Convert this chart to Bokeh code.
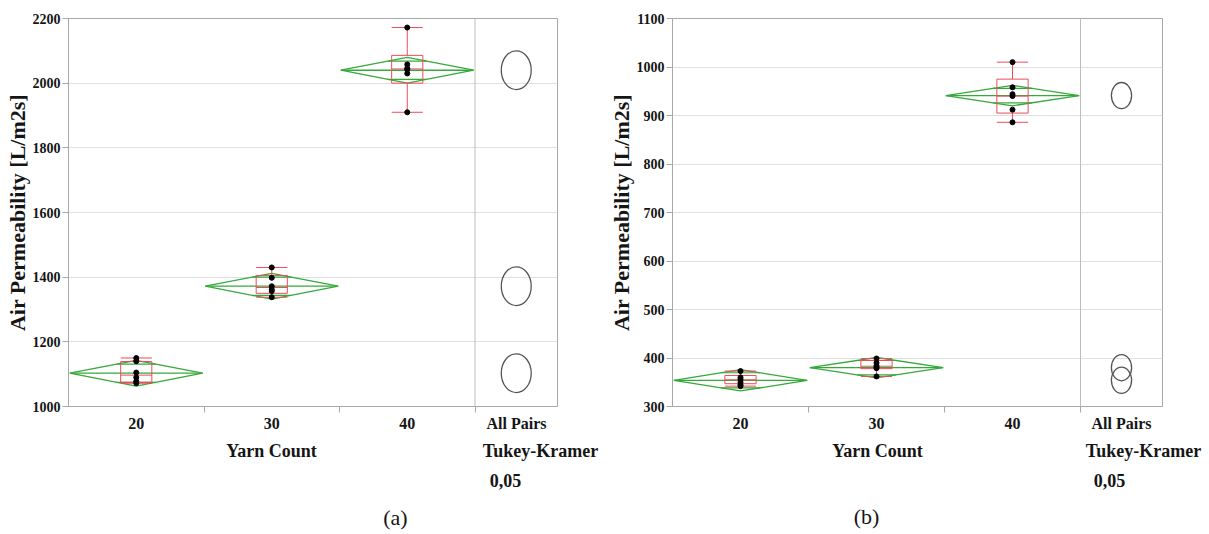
import math
from bokeh.plotting import figure
from bokeh.layouts import row
from bokeh.models import FixedTicker, LinearAxis, Span
from bokeh.embed import file_html
from bokeh.resources import INLINE

# ---------------- data ----------------
categories = ["20", "30", "40"]
cat_pos = [1, 2, 3]

# Panel (a)
a_y20 = [1150, 1140, 1105, 1090, 1078, 1072]
a_y30 = [1430, 1398, 1372, 1362, 1357, 1338]
a_y40 = [2172, 2058, 2046, 2042, 2030, 1910]
a_mean = [1103, 1372, 2040]
a_ci = [40, 40, 40]
a_q1 = [1075, 1350, 2000]
a_median = [1097, 1368, 2044]
a_q3 = [1139, 1405, 2086]
a_low = [1072, 1338, 1910]
a_high = [1150, 1430, 2172]
a_circle_r = [60, 60, 60]
a_yticks = [1000, 1200, 1400, 1600, 1800, 2000, 2200]

# Panel (b)
b_y20 = [373, 360, 356, 350, 345, 342]
b_y30 = [399, 390, 384, 381, 379, 362]
b_y40 = [1010, 958, 944, 940, 912, 886]
b_mean = [354, 380, 941]
b_ci = [22, 21, 21]
b_q1 = [347, 378, 905]
b_median = [355, 383, 940]
b_q3 = [364, 395, 975]
b_low = [342, 362, 886]
b_high = [373, 399, 1010]
b_circle_r = [27, 27, 27]
b_yticks = [300, 400, 500, 600, 700, 800, 900, 1000, 1100]

y_title = "Air Permeability [L/m2s]"
x_title = "Yarn Count"
test_lines = ["All Pairs", "Tukey-Kramer", "0,05"]

# ---------------- style ----------------
GREEN = "#36a93b"
RED = "#ee4b5b"
GRID = "#e0e0e0"
AXIS = "#a8a8a8"
TXT = "#151515"
FONT = "Liberation Serif"


def make_panel(groups, mean, ci, q1, med, q3, lo, hi, circ_r, yticks,
               width, left_px, border_left, border_right, border_top, border_bottom,
               height, sx, text_x, letter, letter_standoff):
    frame_w = width - border_left - border_right
    frame_h = height - border_top - border_bottom
    y0, y1 = yticks[0], yticks[-1]
    sy = frame_h / (y1 - y0)
    x_end = 0.5 + frame_w / sx
    frame_left = left_px + border_left

    def px2x(px):
        return round(0.5 + (px - frame_left) / sx, 4)

    p = figure(width=width, height=height, output_backend="svg", toolbar_location=None,
               x_range=(0.5, x_end), y_range=(y0, y1),
               min_border_left=border_left, min_border_right=border_right,
               min_border_top=border_top, min_border_bottom=border_bottom)
    p.outline_line_color = AXIS
    p.background_fill_color = "white"
    p.border_fill_color = "white"
    p.xgrid.visible = False
    p.ygrid.grid_line_color = GRID
    p.ygrid.grid_line_width = 1

    # y axis
    p.yaxis.ticker = FixedTicker(ticks=yticks)
    p.yaxis.axis_line_color = AXIS
    p.yaxis.major_tick_line_color = AXIS
    p.yaxis.major_tick_out = 6
    p.yaxis.major_tick_in = 0
    p.yaxis.minor_tick_line_color = None
    p.yaxis.major_label_standoff = 2
    p.yaxis.major_label_text_font = FONT
    p.yaxis.major_label_text_font_style = "bold"
    p.yaxis.major_label_text_font_size = "14px"
    p.yaxis.major_label_text_color = TXT
    p.yaxis.axis_label = y_title
    p.yaxis.axis_label_text_font = FONT
    p.yaxis.axis_label_text_font_size = "22px"
    p.yaxis.axis_label_text_font_style = "bold"
    p.yaxis.axis_label_text_color = TXT
    p.yaxis.axis_label_standoff = 0

    # x axis: category labels plus "All Pairs" heading of the comparison-circle column
    t_pairs = px2x(text_x["pairs"])
    p.xaxis.ticker = FixedTicker(ticks=cat_pos + [t_pairs], minor_ticks=[1.5, 2.5, 3.5])
    ov = {c: t for c, t in zip(cat_pos, categories)}
    ov[t_pairs] = test_lines[0]
    p.xaxis.major_label_overrides = ov
    p.xaxis.axis_line_color = AXIS
    p.xaxis.major_tick_line_color = None
    p.xaxis.major_tick_out = 0
    p.xaxis.major_tick_in = 0
    p.xaxis.minor_tick_line_color = AXIS
    p.xaxis.minor_tick_out = 6
    p.xaxis.minor_tick_in = 0
    p.xaxis.major_label_standoff = 2
    p.xaxis.major_label_text_font = FONT
    p.xaxis.major_label_text_font_style = "bold"
    p.xaxis.major_label_text_font_size = "16px"
    p.xaxis.major_label_text_color = TXT

    # further text rows below the plot, each one an axis without line or ticks
    def text_row(items, size, standoff, bold=True):
        ticks = [px2x(cx) for _, cx in items]
        ax = LinearAxis(ticker=FixedTicker(ticks=ticks, minor_ticks=[]),
                        major_label_overrides={t: s for t, (s, _) in zip(ticks, items)},
                        axis_line_color=None, major_tick_line_color=None,
                        minor_tick_line_color=None, major_tick_out=0, major_tick_in=0,
                        minor_tick_out=0, minor_tick_in=0,
                        major_label_standoff=standoff,
                        major_label_text_font=FONT,
                        major_label_text_font_size=f"{size}px",
                        major_label_text_font_style="bold" if bold else "normal",
                        major_label_text_color=TXT)
        p.add_layout(ax, "below")

    text_row([(x_title, text_x["xlab"]), (test_lines[1], text_x["tukey"])], 18, 6)
    text_row([(test_lines[2], text_x["alpha"])], 18, 10)
    text_row([(letter, text_x["letter"])], 22, letter_standoff, bold=False)

    # separator between groups and comparison circles
    p.add_layout(Span(location=3.5, dimension="height", line_color="#bdbdbd", line_width=1))

    # mean diamonds
    xs, ys = [], []
    for c, m, h in zip(cat_pos, mean, ci):
        xs.append([c - 0.49, c, c + 0.49, c])
        ys.append([m, m + h, m, m - h])
    p.patches(xs, ys, fill_color=None, line_color=GREEN, line_width=1.3)
    p.segment(x0=[c - 0.49 for c in cat_pos], x1=[c + 0.49 for c in cat_pos],
              y0=mean, y1=mean, line_color=GREEN, line_width=1.3)
    k = 1 / math.sqrt(2)
    hw = 0.49 * (1 - k)
    for sgn in (1, -1):
        yy = [m + sgn * h * k for m, h in zip(mean, ci)]
        p.segment(x0=[c - hw for c in cat_pos], x1=[c + hw for c in cat_pos],
                  y0=yy, y1=yy, line_color=GREEN, line_width=1.2)

    # box plots
    bw = 0.115
    p.quad(left=[c - bw for c in cat_pos], right=[c + bw for c in cat_pos],
           bottom=q1, top=q3, fill_color=None, line_color=RED, line_width=1)
    p.segment(x0=[c - bw for c in cat_pos], x1=[c + bw for c in cat_pos],
              y0=med, y1=med, line_color=RED, line_width=1)
    p.segment(x0=cat_pos, x1=cat_pos, y0=q3, y1=hi, line_color=RED, line_width=1)
    p.segment(x0=cat_pos, x1=cat_pos, y0=q1, y1=lo, line_color=RED, line_width=1)
    p.segment(x0=[c - bw for c in cat_pos], x1=[c + bw for c in cat_pos],
              y0=hi, y1=hi, line_color=RED, line_width=1)
    p.segment(x0=[c - bw for c in cat_pos], x1=[c + bw for c in cat_pos],
              y0=lo, y1=lo, line_color=RED, line_width=1)

    # data points
    for c, vals in zip(cat_pos, groups):
        p.scatter(x=[c] * len(vals), y=vals, size=5, color="black")

    # comparison circles
    xc = 3.5 + (x_end - 3.5) / 2
    p.ellipse(x=[xc] * len(mean), y=mean,
              width=[0.77 * 2 * r * sy for r in circ_r], width_units="screen",
              height=[2 * r for r in circ_r], height_units="data",
              fill_color=None, line_color="#555555", line_width=1.3)
    return p


HEIGHT = 533
pa = make_panel([a_y20, a_y30, a_y40], a_mean, a_ci, a_q1, a_median, a_q3, a_low, a_high,
                a_circle_r, a_yticks,
                width=605, left_px=0, border_left=68, border_right=48,
                border_top=17, border_bottom=HEIGHT - 17 - 389, height=HEIGHT, sx=135.5,
                text_x={"pairs": 516, "xlab": 271, "tukey": 540, "alpha": 505,
                        "letter": 395},
                letter="(a)", letter_standoff=15)
pb = make_panel([b_y20, b_y30, b_y40], b_mean, b_ci, b_q1, b_median, b_q3, b_low, b_high,
                b_circle_r, b_yticks,
                width=602, left_px=605, border_left=67, border_right=45,
                border_top=18, border_bottom=HEIGHT - 18 - 389, height=HEIGHT, sx=136,
                text_x={"pairs": 1121, "xlab": 877, "tukey": 1143, "alpha": 1109,
                        "letter": 866},
                letter="(b)", letter_standoff=14)

layout = row(pa, pb)
open("out.html", "w").write(file_html(layout, INLINE))
